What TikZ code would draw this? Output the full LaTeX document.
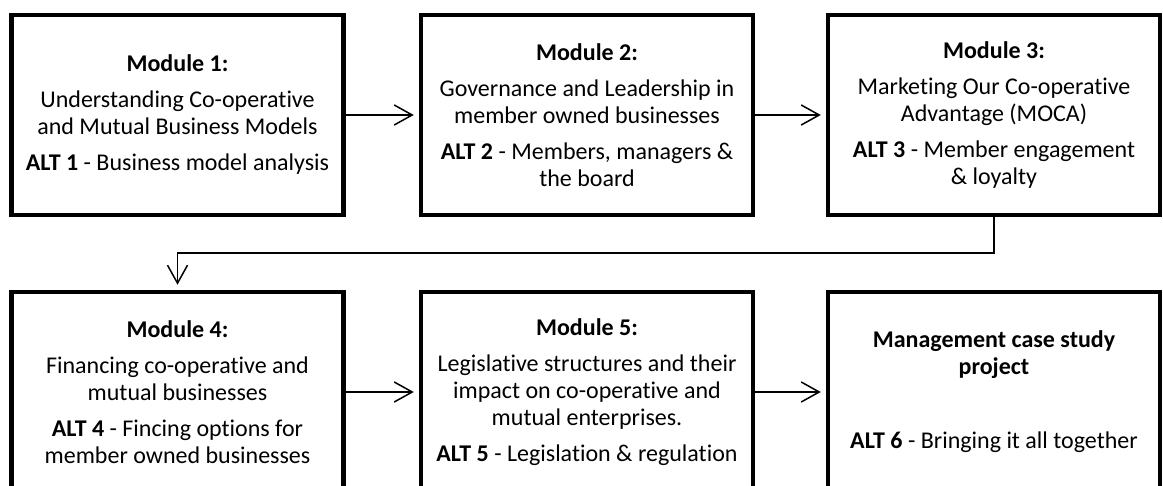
\documentclass[tikz,border=0pt]{standalone}
\usepackage{fontspec}
\setmainfont[Ligatures={NoCommon,NoRare,NoContextual}, RawFeature=-calt]{Carlito}
\usetikzlibrary{arrows.meta}

\begin{document}
\begin{tikzpicture}[
            x=0.5pt, y=-0.5pt,
            modnode/.style={
                draw, line width=2.25pt, minimum width=166pt, minimum height=100pt,
                align=center, font=\fontsize{12}{13.5}\selectfont
            },
            flow/.style={
                -{Straight Barb[length=9pt, width=10pt]}, line width=0.75pt, shorten >=2.5pt
            }
        ]
        \useasboundingbox (0,0) rectangle (1163,486);
        \clip (0,0) rectangle (1163,486);

        \node[modnode] (M1) at (177.5, 115) {\textbf{Module 1:}\\[4.5pt]
            Understanding Co-operative\\ and Mutual Business Models\\[4.5pt]
            \textbf{ALT 1} - Business model analysis};
        \node[modnode] (M2) at (587, 115) {\textbf{Module 2:}\\[4.5pt]
            Governance and Leadership in\\ member owned businesses\\[4.5pt]
            \textbf{ALT 2} - Members, managers \&\\ the board};
        \node[modnode] (M3) at (994, 115) {\textbf{Module 3:}\\[4.5pt]
            Marketing Our Co-operative\\ Advantage (MOCA)\\[4.5pt]
            \textbf{ALT 3} - Member engagement\\ \& loyalty};
        \node[modnode] (M4) at (177.5, 392) {\textbf{Module 4:}\\[4.5pt]
            Financing co-operative and\\ mutual businesses\\[4.5pt]
            \textbf{ALT 4} - Fincing options for\\ member owned businesses};
        \node[modnode] (M5) at (587, 392) {\textbf{Module 5:}\\[4.5pt]
            Legislative structures and their\\ impact on co-operative and\\ mutual enterprises.\\[4.5pt]
            \textbf{ALT 5} - Legislation \& regulation};
        \node[modnode] (P) at (994, 392) {\textbf{Management case study}\\ \textbf{project}\\[23.5pt]
            \textbf{ALT 6} - Bringing it all together};

        % arrows
        \draw[flow] (M1) -- (M2);
        \draw[flow] (M2) -- (M3);
        \draw[flow] (M3.south) -- ++(0, 36) -| (M4.north);
        \draw[flow] (M4) -- (M5);
        \draw[flow] (M5) -- (P);
        \end{tikzpicture}
\end{document}
